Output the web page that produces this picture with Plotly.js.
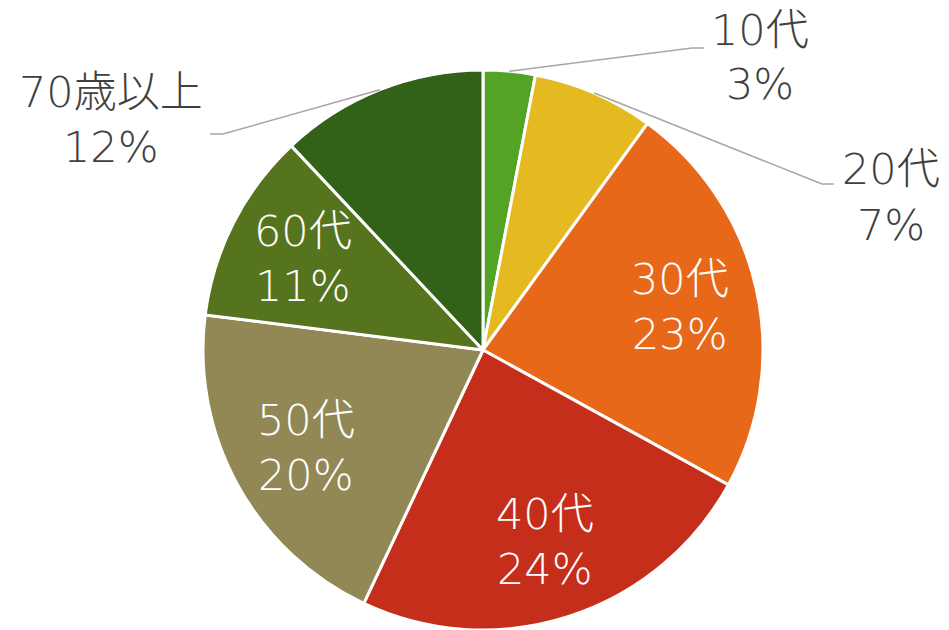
<!DOCTYPE html>
<html><head><meta charset="utf-8">
<script src="https://cdn.plot.ly/plotly-3.0.1.min.js"></script>
<style>html,body{margin:0;padding:0;background:#fff}#chart{width:949px;height:630px}</style>
</head><body><div id="chart"></div>
<script>
const categories = ['10代','20代','30代','40代','50代','60代','70歳以上'];
const percents = [3, 7, 23, 24, 20, 11, 12];
const colors = ['#53a424','#e5b920','#e8681a','#c42e1a','#918855','#56741d','#326218'];
const insideFlags = [false, false, true, true, true, true, false];

const W = 949, H = 630;
const cx = 483, cy = 350, R = 280;
const font = '"DejaVu Sans", "Noto Sans CJK JP", sans-serif';
const fs = 43;
const halfGap = 27.5;

// outside label layout (pixel positions of text centre and leader line ends)
const outsideLayout = {
  0: {tx: 760, ty: 57, ex: 692, ey: 48, hx: 704},
  1: {tx: 891, ty: 197, ex: 822, ey: 184, hx: 834},
  6: {tx: 111, ty: 119, ex: 223, ey: 134, hx: 210}
};

const px2x = p => p / W;
const px2y = p => 1 - p / H;

const total = percents.reduce((a,b)=>a+b,0);
const annotations = [];
const shapes = [];

function addLabel(x, y, lines, color) {
  lines.forEach((t, k) => {
    annotations.push({
      xref:'paper', yref:'paper', x: px2x(x), y: px2y(y + (k === 0 ? -halfGap : halfGap)),
      xanchor:'center', yanchor:'middle', showarrow:false, text: t,
      font:{family:font, size:fs, color:color, weight:300}
    });
  });
}

let cum = 0;
percents.forEach((v, i) => {
  const mid = (cum + v/2) / total * 2 * Math.PI;
  cum += v;
  const lines = [categories[i], v + '%'];
  if (insideFlags[i]) {
    const rr = 0.72 * R;
    addLabel(cx + rr*Math.sin(mid), cy - rr*Math.cos(mid), lines, '#ffffff');
  } else {
    const o = outsideLayout[i];
    const sx = cx + R*Math.sin(mid), sy = cy - R*Math.cos(mid);
    addLabel(o.tx, o.ty, lines, '#404040');
    shapes.push({
      type:'path', xref:'paper', yref:'paper',
      path: `M ${px2x(sx)},${px2y(sy)} L ${px2x(o.ex)},${px2y(o.ey)} L ${px2x(o.hx)},${px2y(o.ey)}`,
      line:{color:'#a6a6a6', width:1.5}
    });
  }
});

const trace = {
  type:'pie',
  labels: categories,
  values: percents,
  sort:false,
  direction:'clockwise',
  rotation:0,
  marker:{colors: colors, line:{color:'#ffffff', width:3}},
  textinfo:'none',
  hoverinfo:'none',
  domain:{x:[(cx-R)/W, (cx+R)/W], y:[1-(cy+R)/H, 1-(cy-R)/H]}
};

Plotly.newPlot('chart', [trace], {
  width: W, height: H,
  margin:{l:0,r:0,t:0,b:0},
  paper_bgcolor:'#ffffff',
  showlegend:false,
  annotations: annotations,
  shapes: shapes
}, {displayModeBar:false, staticPlot:true});
</script>
</body></html>
